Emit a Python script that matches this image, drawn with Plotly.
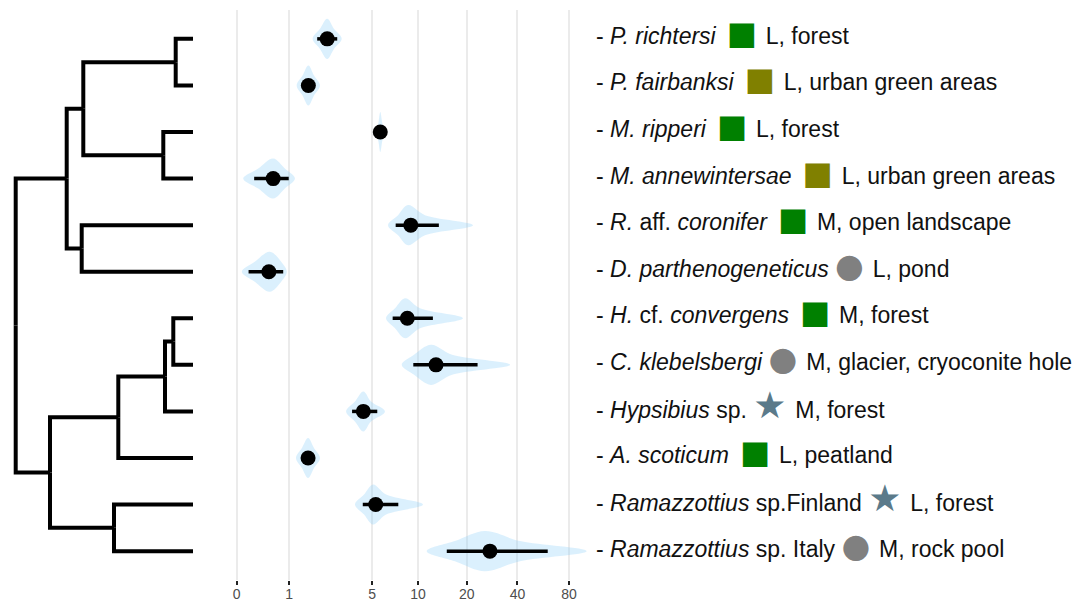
import numpy as np
import plotly.graph_objects as go

# ---------------- data ----------------
species = [
    "<i>P. richtersi</i>",
    "<i>P. fairbanksi</i>",
    "<i>M. ripperi</i>",
    "<i>M. annewintersae</i>",
    "<i>R.</i> aff. <i>coronifer</i>",
    "<i>D. parthenogeneticus</i>",
    "<i>H.</i> cf. <i>convergens</i>",
    "<i>C. klebelsbergi</i>",
    "<i>Hypsibius</i> sp.",
    "<i>A. scoticum</i>",
    "<i>Ramazzottius</i> sp.Finland",
    "<i>Ramazzottius</i> sp. Italy",
]
habitat = [
    "L, forest", "L, urban green areas", "L, forest", "L, urban green areas",
    "M, open landscape", "L, pond", "M, forest", "M, glacier, cryoconite hole",
    "M, forest", "L, peatland", "L, forest", "M, rock pool",
]
symbol = ["square", "square", "square", "square", "square", "circle",
          "square", "circle", "star", "square", "star", "circle"]
symbol_color = ["#008000", "#808000", "#008000", "#808000", "#008000", "#808080",
                "#008000", "#808080", "#5b7a8a", "#008000", "#5b7a8a", "#808080"]

mean = [2.31, 1.58, 5.68, 0.62, 9.0, 0.53, 8.55, 12.96, 4.34, 1.57, 5.29, 27.5]
lower = [1.90, 1.50, 5.55, 0.26, 7.19, 0.17, 6.87, 9.34, 3.60, 1.50, 4.30, 15.1]
upper = [2.78, 1.67, 5.82, 0.99, 13.5, 0.85, 12.4, 23.2, 5.42, 1.65, 7.48, 60.2]

# violin outline (data units): min, lower body, peak, upper body, max
vio_min = [1.73, 1.21, 5.37, 0.09, 6.4, 0.07, 6.21, 7.87, 3.25, 1.19, 3.78, 11.35]
vio_lo = [2.01, 1.39, 5.53, 0.33, 7.45, 0.27, 7.12, 9.44, 3.78, 1.37, 4.39, 16.95]
vio_peak = [2.31, 1.58, 5.68, 0.62, 8.64, 0.55, 8.27, 12.07, 4.34, 1.57, 5.07, 25.7]
vio_hi = [2.62, 1.78, 5.84, 0.89, 11.07, 0.80, 10.3, 16.26, 4.91, 1.78, 6.21, 41.4]
vio_max = [3.01, 2.01, 6.02, 1.16, 21.8, 0.94, 18.96, 36.2, 6.11, 2.01, 10.76, 101.5]

tick_values = [0, 1, 5, 10, 20, 40, 80]

# tree: node depths and children (tips are row numbers)
tip_depth = 193
node_depth = {"root": 15.7, "A": 66.7, "n1234": 83.3, "n12": 175.7, "n34": 163.3,
              "n56": 81.7, "B": 50, "n78910": 118.3, "n789": 165, "n78": 173.3,
              "n1112": 114}
node_children = {"root": ["A", "B"], "A": ["n1234", "n56"], "n1234": ["n12", "n34"],
                 "n12": [1, 2], "n34": [3, 4], "n56": [5, 6], "B": ["n78910", "n1112"],
                 "n78910": ["n789", 10], "n789": ["n78", 9], "n78": [7, 8],
                 "n1112": [11, 12]}

# ---------------- helpers ----------------
def tr(v):
    return np.log2(np.asarray(v, dtype=float) + 1.0)

rows = np.arange(1, len(species) + 1)

fig = go.Figure()

# violins
w = 0.43
prof = [0, 0.5, 1, 0.5, 0]
for i in range(len(species)):
    xs_top = tr([vio_min[i], vio_lo[i], vio_peak[i], vio_hi[i], vio_max[i]])
    xs = list(xs_top) + list(xs_top[::-1][1:])
    ys = [rows[i] - w * p for p in prof] + [rows[i] + w * p for p in prof[::-1][1:]]
    fig.add_trace(go.Scatter(x=xs, y=ys, mode="lines", fill="toself",
                             line=dict(width=0, shape="spline", smoothing=1.0),
                             fillcolor="rgba(135,206,250,0.3)",
                             hoverinfo="skip", showlegend=False))

# points + intervals
tm = tr(mean)
fig.add_trace(go.Scatter(
    x=tm, y=rows, mode="markers",
    marker=dict(size=15, color="black"),
    error_x=dict(type="data", symmetric=False,
                 array=tr(upper) - tm, arrayminus=tm - tr(lower),
                 thickness=3.5, width=0, color="black"),
    showlegend=False))

# tree
tx, ty = [], []
def node_y(n):
    if isinstance(n, int):
        return float(n)
    return float(np.mean([node_y(c) for c in node_children[n]]))

def walk(n):
    px = node_depth[n]
    py = node_y(n)
    for c in node_children[n]:
        cx = tip_depth if isinstance(c, int) else node_depth[c]
        cy = node_y(c)
        tx.extend([px, px, cx, None])
        ty.extend([py, cy, cy, None])
        if not isinstance(c, int):
            walk(c)

walk("root")
fig.add_trace(go.Scatter(x=tx, y=ty, xaxis="x2", yaxis="y", mode="lines",
                         line=dict(color="black", width=4),
                         hoverinfo="skip", showlegend=False))

# labels
glyph = {"square": ("\u25A0", 32, "\u2009"), "circle": ("\u25CF", 33, ""),
         "star": ("\u2605", 37, "")}
small_gap = "<span style='font-size:12px'>\u2009</span>"
for i in range(len(species)):
    g, fs, pre = glyph[symbol[i]]
    txt = (f"- {species[i]}{pre} <span style='color:{symbol_color[i]};font-size:{fs}px;"
           f"font-family:DejaVu Sans'>{g}</span> {small_gap}{habitat[i]}")
    fig.add_annotation(x=594 / 1078, xref="paper", xanchor="left",
                       y=rows[i], yref="y", yanchor="middle", yshift=6,
                       text=txt, showarrow=False, align="left",
                       font=dict(family="Liberation Sans", size=23, color="#111111"))

W, H = 1078, 604
x_left_px, x_right_px = 225, 590
px_per_unit, zero_px = 52.4, 236.7

fig.update_layout(
    width=W, height=H,
    margin=dict(l=0, r=0, t=0, b=0),
    paper_bgcolor="white", plot_bgcolor="white",
    xaxis=dict(domain=[x_left_px / W, x_right_px / W],
               range=[(x_left_px - zero_px) / px_per_unit, (x_right_px - zero_px) / px_per_unit],
               tickvals=tr(tick_values), ticktext=[str(v) for v in tick_values],
               ticks="outside", ticklen=4, tickwidth=2, tickcolor="#222222",
               ticklabelstandoff=-3,
               tickfont=dict(family="Liberation Sans", size=14, color="#4d4d4d"),
               showgrid=True, gridcolor="#ebebeb", gridwidth=2,
               zeroline=False, showline=False, fixedrange=True),
    xaxis2=dict(domain=[0, 0.2], range=[0, 0.2 * W], anchor="y",
                visible=False, fixedrange=True),
    yaxis=dict(domain=[1 - 580 / H, 1 - 10 / H], range=[12.62, 0.38],
               visible=False, fixedrange=True),
)

fig.write_html("out.html", config={"displayModeBar": False},
               post_script="document.body.style.margin='0';document.body.style.overflow='hidden';")
